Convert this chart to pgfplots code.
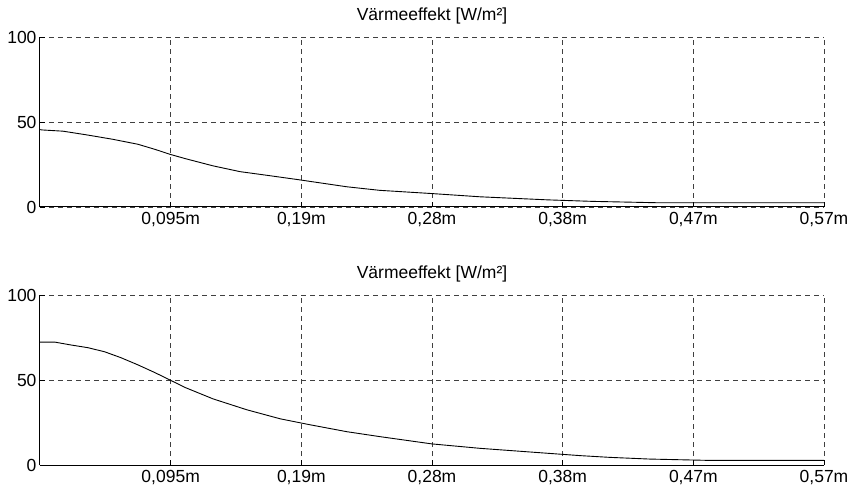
\documentclass[border=0pt]{standalone}
\usepackage{pgfplots}
\pgfplotsset{compat=1.18}
\usepackage{fontspec}
\setmainfont{Liberation Sans}
\begin{document}
\begin{tikzpicture}
\useasboundingbox (-40bp,-24bp) rectangle (809bp,465bp);
\pgfplotsset{
 myax/.style={
  scale only axis, width=784bp, height=170bp,
  xmin=0, xmax=0.57, ymin=0, ymax=100,
  xtick={0.095,0.19,0.285,0.38,0.475,0.57},
  xticklabels={{0,095m},{0,19m},{0,28m},{0,38m},{0,47m},{0,57m}},
  ytick={0,50,100},
  yticklabels={0,50,100},
  axis x line*=bottom, axis y line*=left,
  axis line style={-, black, line width=1bp},
  tick align=inside, major tick length=5bp,
  tick style={black, line width=0.8bp},
  grid=major,
  major grid style={black!75, dash pattern=on 5bp off 4bp, line width=0.8bp},
  ticklabel style={font=\fontsize{17.5bp}{20bp}\selectfont},
  xticklabel style={yshift=-2bp},
  title={Värmeeffekt [W/m²]},
  title style={font=\fontsize{17.5bp}{20bp}\selectfont, at={(0.5,1)}, anchor=base, yshift=11bp},
 }
}
\begin{axis}[myax, at={(0,258bp)}]
\addplot[black, line width=0.9bp] coordinates {
(0,45.5) (0.002,45.3) (0.0167,44.6) (0.0349,42.3) (0.0531,39.8) (0.0712,36.9) (0.0836,33.9) (0.0945,31) (0.1054,28.5) (0.1258,24.2) (0.1454,20.8) (0.1672,18.4) (0.1876,16.1) (0.223,11.9) (0.247,9.8) (0.285,7.9) (0.320,6) (0.369,4.2) (0.402,3.3) (0.449,2.5) (0.57,2.5)
};
\end{axis}
\begin{axis}[myax, at={(0,0)}]
\addplot[black, line width=0.9bp] coordinates {
(0,72.3) (0.0107,72.3) (0.0225,70.6) (0.0349,69) (0.047,66.6) (0.0589,63.1) (0.0712,58.9) (0.0834,54.4) (0.0945,50) (0.1052,45.7) (0.1258,38.9) (0.1503,32.5) (0.1745,27.2) (0.1948,23.9) (0.223,19.6) (0.247,16.7) (0.285,12.4) (0.320,9.8) (0.369,6.9) (0.393,5.5) (0.414,4.5) (0.443,3.5) (0.487,2.7) (0.57,2.7)
};
\end{axis}
\end{tikzpicture}
\end{document}
